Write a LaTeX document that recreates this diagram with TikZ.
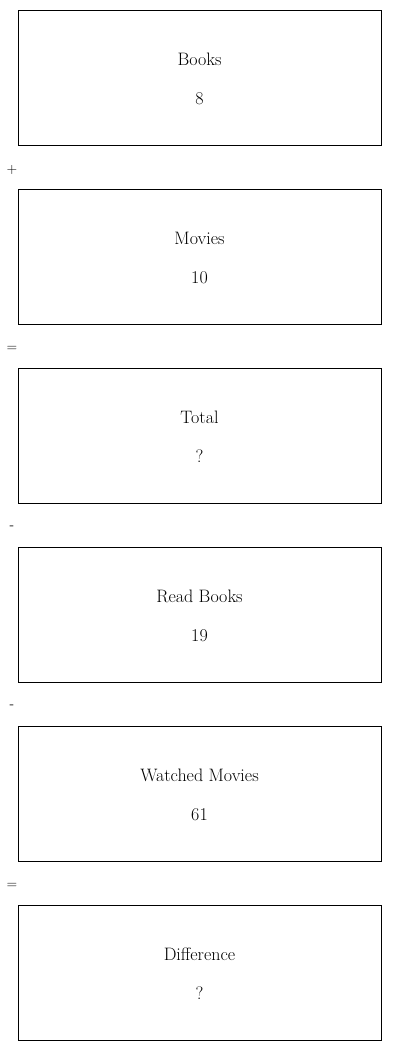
\documentclass[tikz,border=0pt]{standalone}
\usetikzlibrary{positioning}
\begin{document}
\begin{tikzpicture}[x=1pt, y=-1pt,
		itembox/.style={draw, line width=0.8pt, minimum width=363pt, minimum height=135pt, inner sep=0pt},
		itemtext/.style={font=\fontsize{18}{21}\selectfont},
		optext/.style={font=\sffamily\fontsize{14}{16}\selectfont}]
	\useasboundingbox (0,0) rectangle (400,1051);
	% Boxes with a title and a value
	\foreach \i/\name/\val in {1/Books/8, 2/Movies/10, 3/Total/?, 4/Read Books/19, 5/Watched Movies/61, 6/Difference/?} {
		\node[itembox] (box\i) at (199.5, {77.5+179*(\i-1)}) {};
		\node[itemtext] (title\i) at ([yshift=18pt]box\i.center) {\name};
		\node[itemtext] (val\i) at ([yshift=-21pt]box\i.center) {\val};
	}
	% Operators between the boxes
	\foreach \i/\op in {1/+, 2/=, 3/-, 4/-, 5/=} {
		\node[optext] (op\i) at (12, {170+179*(\i-1)}) {\op};
	}
\end{tikzpicture}
\end{document}
